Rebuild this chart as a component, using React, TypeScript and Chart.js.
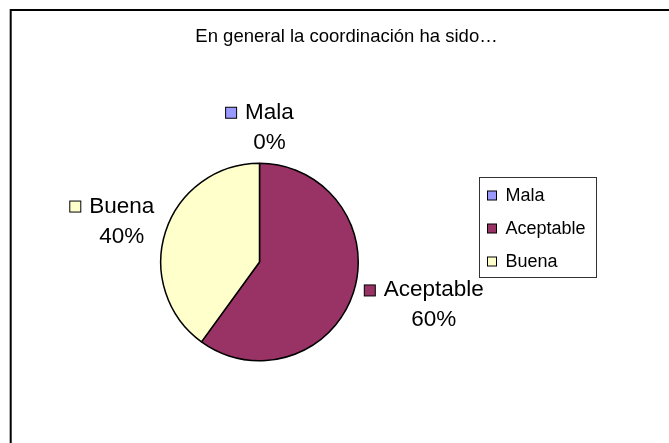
import React, { useEffect, useRef } from "react";
import { Chart, registerables } from "chart.js";

Chart.register(...registerables);

const TITLE = "En general la coordinación ha sido…";
const categories = ["Mala", "Aceptable", "Buena"];
const values = [0, 60, 40];
const colors = ["#9999FF", "#993366", "#FFFFCC"];

const FONT = '"Liberation Sans", Arial, Helvetica, sans-serif';

const overlayPlugin = {
  id: "overlay",
  afterDraw(chart: any) {
    const ctx = chart.ctx as CanvasRenderingContext2D;
    ctx.save();

    // outer frame (right/bottom edges fall outside the view)
    ctx.strokeStyle = "#000";
    ctx.lineWidth = 2;
    ctx.beginPath();
    ctx.moveTo(2.7, 3000);
    ctx.lineTo(2.7, 2);
    ctx.lineTo(3000, 2);
    ctx.stroke();

    // title
    ctx.fillStyle = "#000";
    ctx.font = `18.5px ${FONT}`;
    ctx.textAlign = "center";
    ctx.textBaseline = "alphabetic";
    ctx.fillText(TITLE, 338.5, 34);

    // data labels
    const meta = chart.getDatasetMeta(0);
    const total = values.reduce((a, b) => a + b, 0);
    ctx.font = `22.5px ${FONT}`;
    ctx.textAlign = "left";
    const gap = 14;
    const h = 46;
    meta.data.forEach((arc: any, i: number) => {
      const p = arc.getProps(["x", "y", "startAngle", "endAngle", "outerRadius"], true);
      const mid = (p.startAngle + p.endAngle) / 2;
      const dx = Math.cos(mid);
      const dy = Math.sin(mid);
      const pct = Math.round((values[i] / total) * 100) + "%";
      const tw = ctx.measureText(categories[i]).width;
      const pw = ctx.measureText(pct).width;
      const w = 20 + tw;
      const r = p.outerRadius;
      const bcx = p.x + dx * (r + gap) + (dx * w) / 2;
      const bcy = p.y + dy * (r + gap) + (dy * h) / 2;
      const textLeft = bcx - w / 2 + 20;
      const base1 = bcy - h / 2 + 15.5;
      const base2 = base1 + 30;
      // swatch
      ctx.fillStyle = colors[i];
      ctx.fillRect(textLeft - 19.5, base1 - 11.5, 11, 11);
      ctx.strokeStyle = "#000";
      ctx.lineWidth = 1;
      ctx.strokeRect(textLeft - 19.5, base1 - 11.5, 11, 11);
      ctx.fillStyle = "#000";
      ctx.fillText(categories[i], textLeft, base1);
      ctx.fillText(pct, textLeft + tw / 2 - pw / 2, base2);
    });

    // legend
    const lx = 471.5;
    const ly = 169.5;
    const lw = 117;
    const lh = 100;
    ctx.strokeStyle = "#333";
    ctx.lineWidth = 1;
    ctx.strokeRect(lx, ly, lw, lh);
    ctx.font = `18px ${FONT}`;
    categories.forEach((c, i) => {
      const base = ly + 23 + i * 33;
      ctx.fillStyle = colors[i];
      ctx.fillRect(lx + 8, base - 9.5, 9, 9);
      ctx.strokeStyle = "#000";
      ctx.strokeRect(lx + 8, base - 9.5, 9, 9);
      ctx.fillStyle = "#000";
      ctx.fillText(c, lx + 26, base);
    });

    ctx.restore();
  },
};

export default function App() {
  const ref = useRef<HTMLCanvasElement | null>(null);
  useEffect(() => {
    document.documentElement.style.overflow = "hidden";
    if (!ref.current) return;
    const chart = new Chart(ref.current, {
      type: "pie",
      data: {
        labels: categories,
        datasets: [
          {
            data: values,
            backgroundColor: colors,
            borderColor: "#000",
            borderWidth: 1.5,
          },
        ],
      },
      options: {
        responsive: false,
        animation: false,
        events: [],
        layout: { padding: { left: 152, top: 154.5, right: 310, bottom: 81.5 } },
        plugins: {
          legend: { display: false },
          tooltip: { enabled: false },
          title: { display: false },
        },
      },
      plugins: [overlayPlugin],
    });
    return () => chart.destroy();
  }, []);
  return (
    <div style={{ position: "fixed", left: 8, top: 8, width: 661, height: 435, overflow: "hidden" }}>
      <canvas ref={ref} width={661} height={435} style={{ display: "block", background: "#fff" }} />
    </div>
  );
}
